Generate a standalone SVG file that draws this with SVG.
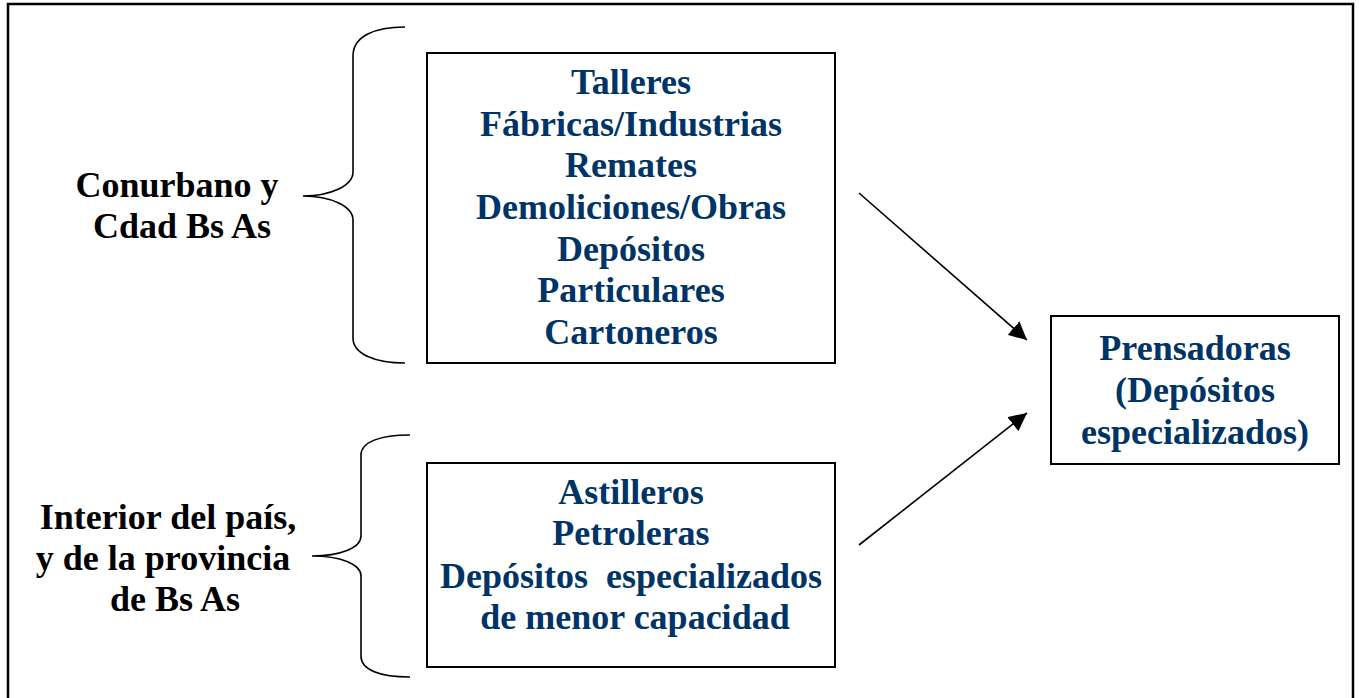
<svg xmlns="http://www.w3.org/2000/svg" width="1359" height="698" viewBox="0 0 1359 698">
<style>
.t{font-family:"Liberation Serif","Times New Roman",serif;font-weight:bold;font-size:36px;text-anchor:middle}
.b{fill:#003366}
.k{fill:#000}
.box{fill:#fff;stroke:#000;stroke-width:2}
.br{fill:none;stroke:#000;stroke-width:1.6}
.ar{stroke:#000;stroke-width:1.6;fill:none}
</style>
<defs>
<marker id="ah" viewBox="0 0 10 10" refX="10" refY="5" markerWidth="18" markerHeight="18" markerUnits="userSpaceOnUse" orient="auto">
<path d="M0,0 L10,5 L0,10 z" fill="#000"/>
</marker>
</defs>
<rect x="8" y="4" width="1345" height="720" fill="#fff" stroke="#000" stroke-width="2.5"/>
<g id="label-conurbano">
<text class="t k" x="177" y="197">Conurbano y</text>
<text class="t k" x="182" y="238">Cdad Bs As</text>
</g>
<g id="label-interior">
<text class="t k" x="168" y="529">Interior del país,</text>
<text class="t k" x="163" y="570">y de la provincia</text>
<text class="t k" x="175" y="611">de Bs As</text>
</g>
<g id="brace-top">
<path class="br" d="M405,27 C375,27 353,36 353,56 L353,172 C353,186 330,196 303,196 C330,196 353,206 353,220 L353,338 C353,354 375,363 405,363"/>
</g>
<g id="brace-bottom">
<path class="br" d="M410,435 C380,435 361,442 361,455 L361,536 C361,548 340,556 312,556 C340,556 361,564 361,576 L361,656 C361,670 380,677 410,677"/>
</g>
<g id="box-sources">
<rect class="box" x="427" y="53" width="408" height="310"/>
<text class="t b" x="631" y="94">Talleres</text>
<text class="t b" x="631" y="136">Fábricas/Industrias</text>
<text class="t b" x="631" y="177">Remates</text>
<text class="t b" x="631" y="219">Demoliciones/Obras</text>
<text class="t b" x="631" y="261">Depósitos</text>
<text class="t b" x="631" y="302">Particulares</text>
<text class="t b" x="631" y="344">Cartoneros</text>
</g>
<g id="box-interior">
<rect class="box" x="427" y="463" width="408" height="204"/>
<text class="t b" x="631" y="504">Astilleros</text>
<text class="t b" x="631" y="545">Petroleras</text>
<text class="t b" x="631" y="588" xml:space="preserve">Depósitos  especializados</text>
<text class="t b" x="635" y="629">de menor capacidad</text>
</g>
<g id="box-prensadoras">
<rect class="box" x="1051" y="316" width="288" height="148"/>
<text class="t b" x="1195" y="360">Prensadoras</text>
<text class="t b" x="1195" y="402">(Depósitos</text>
<text class="t b" x="1195" y="444">especializados)</text>
</g>
<g id="connectors">
<line class="ar" x1="859" y1="193" x2="1027" y2="340" marker-end="url(#ah)"/>
<line class="ar" x1="859" y1="545" x2="1027" y2="413" marker-end="url(#ah)"/>
</g>
</svg>
